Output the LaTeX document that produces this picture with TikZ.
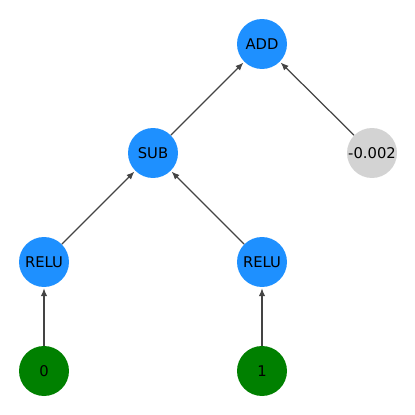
\documentclass[tikz,border=0pt]{standalone}
\usepackage{fontspec}
\setmainfont{DejaVu Sans}
\usepackage{xcolor}
\usetikzlibrary{arrows.meta}
\definecolor{cOp}{HTML}{1E90FF}
\definecolor{cIn}{HTML}{008000}
\definecolor{cConst}{HTML}{D3D3D3}
\definecolor{cEdge}{HTML}{444444}
\tikzset{
  vtx/.style   = {circle, inner sep=0pt, minimum size=1cm, font=\fontsize{8.4}{10}\selectfont, text=black},
  op/.style    = {vtx, fill=cOp},
  inp/.style   = {vtx, fill=cIn},
  const/.style = {vtx, fill=cConst},
  edge/.style  = {-{Latex[length=1.6mm, width=1.3mm]}, draw=cEdge, line width=0.7pt, shorten >=0.5pt},
}
\begin{document}
\begin{tikzpicture}[x=0.02cm, y=-0.02cm]
  \useasboundingbox (0,0) rectangle (415,415);
  \node[op]    (add)   at (262,44)  {ADD};
  \node[op]    (sub)   at (153,153) {SUB};
  \node[const] (cst)   at (372,153) {-0.002};
  \node[op]    (reluA) at (44,262)  {RELU};
  \node[op]    (reluB) at (262,262) {RELU};
  \node[inp]   (inA)   at (44,371)  {0};
  \node[inp]   (inB)   at (262,371) {1};
  \draw[edge] (sub) -- (add);
  \draw[edge] (cst) -- (add);
  \draw[edge] (reluA) -- (sub);
  \draw[edge] (reluB) -- (sub);
  \draw[edge] (inA) -- (reluA);
  \draw[edge] (inB) -- (reluB);
\end{tikzpicture}
\end{document}
